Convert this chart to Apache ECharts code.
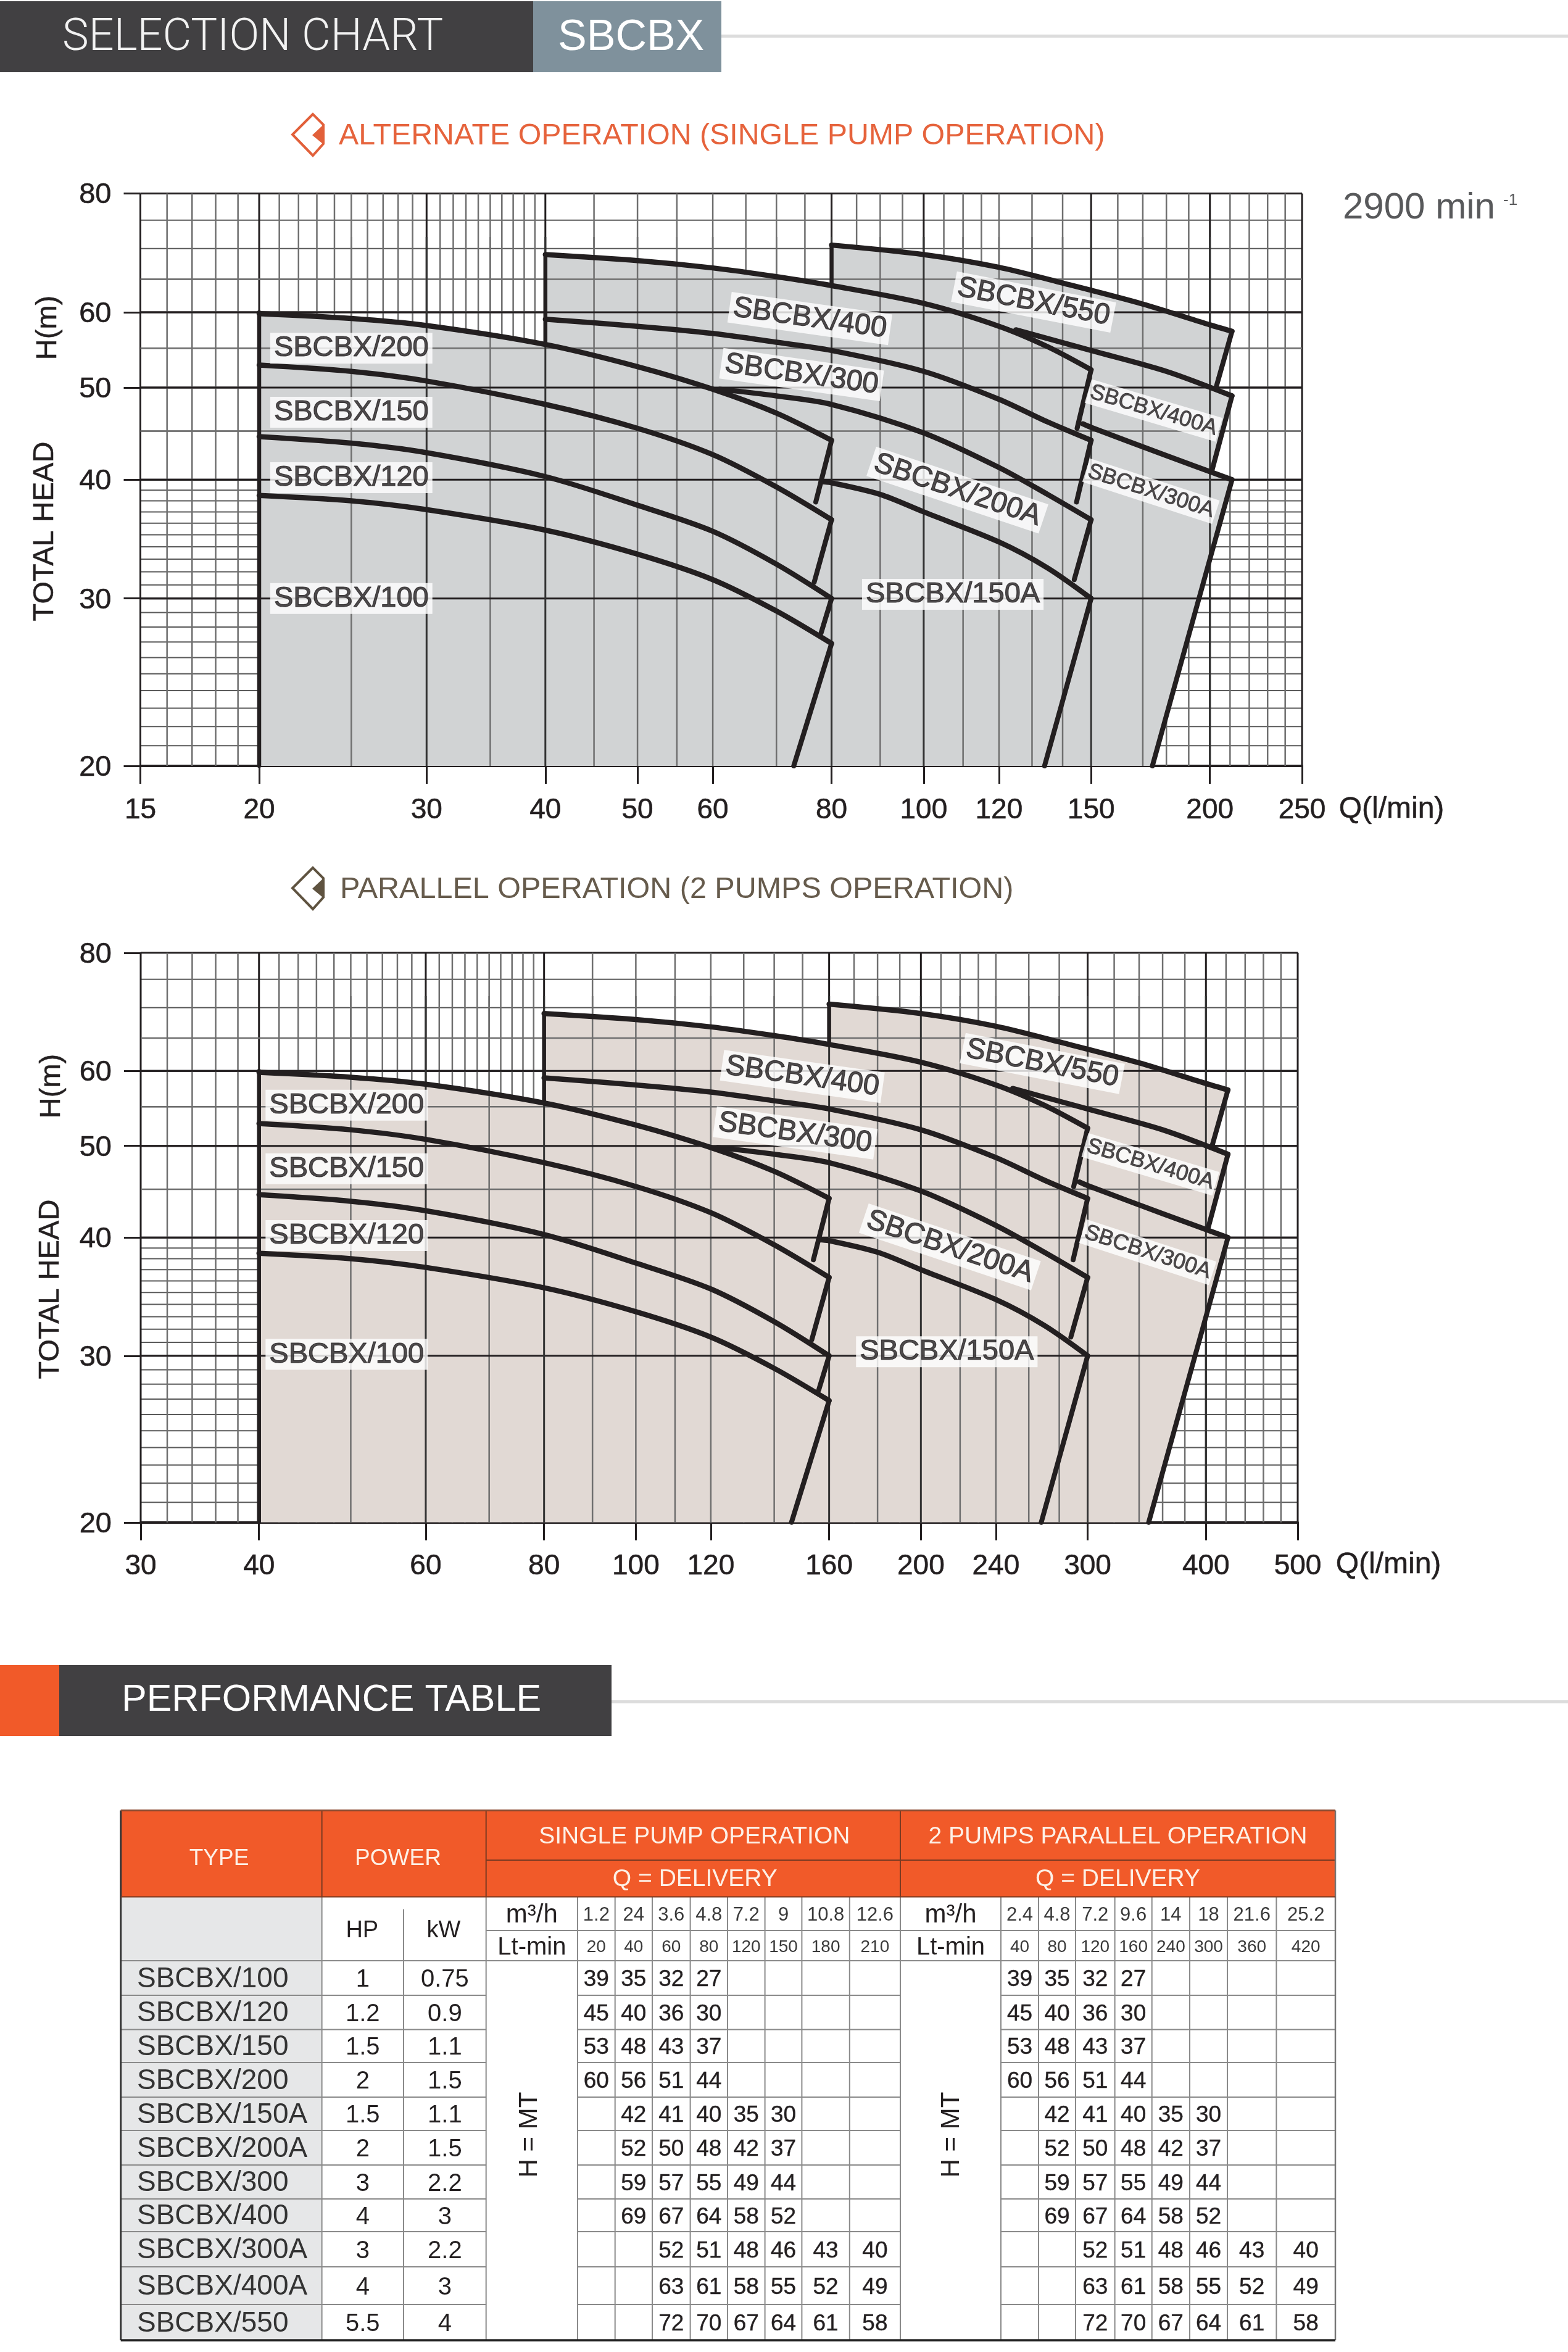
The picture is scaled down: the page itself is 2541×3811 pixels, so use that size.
<!DOCTYPE html>
<html><head><meta charset="utf-8">
<style>html,body{margin:0;padding:0;background:#fff}#c{width:2541px;height:3811px}</style>
<script src="https://cdn.jsdelivr.net/npm/echarts@6/dist/echarts.min.js"></script>
</head><body><div id="c"></div>
<script>
// ---------- axis ticks ----------
const yTicks = [20,30,40,50,60,80];
const xTicks1 = [15,20,30,40,50,60,80,100,120,150,200,250];
const xTicks2 = [30,40,60,80,100,120,160,200,240,300,400,500];
// ---------- grid line values ----------
const yGridMajor = [80,60,50,40,30];
const yGridMinor = [75,70,65,55,45,39,38,37,36,35,34,33,32,31,29,28,27,26,25,24,23,22,21];
const yOverMajor = [60,50,40,30];
const yOverMinor = [65,55,45];
const xGridMajor1 = [15,20,30,40,80,100,150,200,250];
const xGridMinor1 = [16,17,18,19,21,22,23,24,25,26,27,28,29,31,32,33,34,35,36,37,38,39,45,50,55,60,65,70,75,85,90,95,105,110,115,120,130,140,160,170,180,190,210,220,230,240];
const xOverMajor1 = [30,40,80,100,150,200];
const xOverMinor1 = [25,35,45,50,55,60,70,90,110,120,130,140,170];
const xGridMajor2 = [30,40,60,80,160,200,300,400,500];
const xGridMinor2 = [32,34,36,38,42,44,46,48,50,52,54,56,58,62,64,66,68,70,72,74,76,78,90,100,110,120,130,140,150,170,180,190,210,220,230,240,260,280,320,340,360,380,420,440,460,480];
const xOverMajor2 = [60,80,160,200,300,400];
const xOverMinor2 = [50,70,90,100,110,120,140,180,220,240,260,280,340];
// ---------- single pump curves [Q l/min, H m] ----------
const c100a  = [[20,38.5],[25,38],[30,37.2],[40,35.4],[50,33.4],[60,31.4],[70,29.1],[80,26.9]];
const c120a  = [[20,44.4],[25,43.7],[30,42.7],[40,40.3],[50,37.6],[60,35.3],[70,32.6],[80,30]];
const c150a  = [[20,52.8],[25,52],[30,50.8],[40,48],[50,45.3],[60,42.5],[70,39.3],[80,36.3]];
const c200a  = [[20,59.8],[25,59.1],[30,58.1],[40,55.5],[50,52.6],[60,49.8],[70,47],[80,44]];
const c150Aa = [[78,39.8],[80,39.7],[90,38.6],[100,37],[120,34.4],[135,32.3],[150,30]];
const c200Aa = [[61,49.8],[70,49],[80,48],[100,44.8],[120,41.2],[135,38.6],[150,36.3]];
const c300a  = [[40,59],[50,58],[60,57],[70,55.8],[80,54.7],[100,52],[120,48.6],[135,46],[150,44]];
const c400a  = [[40,69],[50,68],[60,66.8],[70,65.4],[80,64],[100,61.3],[120,58],[135,55.2],[150,52.2]];
const c300Aa = [[147,45.8],[150,45.4],[180,42.4],[211,40]];
const c400Aa = [[125,57.5],[150,54.7],[180,52],[211,49]];
const c550a  = [[80,70.6],[100,69],[120,66.9],[140,64.4],[170,61.2],[200,58.2],[211,57.3]];
const cutsA  = [[[80,44],[77,37.9]],[[80,36.3],[76.7,31.2]],[[80,30],[78,27.6]],[[80,26.9],[73,20]],
                [[150,52.2],[145,45.3]],[[150,44],[144.8,37.9]],[[150,36.3],[144,31.4]],[[150,30],[134,20]],
                [[211,57.3],[203,50]],[[211,49],[201,40.9]],[[211,40],[174,20]]];
const wallsA = [[[20,20],[20,60]],[[40,55.5],[40,69]],[[80,64],[80,70.6]]];
const envA   = [[20,20],[20,60],[25,59.1],[30,58.1],[40,55.5],[40,69],[50,68],[60,66.8],[70,65.4],[80,64],[80,70.6],[100,69],[120,66.9],[140,64.4],[170,61.2],[200,58.2],[211,57.3],[203,50],[211,49],[201,40.9],[211,40],[174,20]];
const labelsA = [[25,55],[25,47.1],[25,40.2],[25,30],[107.3,30.3],[108.5,39],[74.4,51.6],[75.9,59.1],[173.4,38.9],[174.5,47.3],[130.5,61.5]];
// ---------- parallel curves ----------
const c100b  = [[40,38.5],[50,38],[60,37.2],[80,35.4],[100,33.4],[120,31.4],[140,29.1],[160,26.9]];
const c120b  = [[40,44.4],[50,43.7],[60,42.7],[80,40.3],[100,37.6],[120,35.3],[140,32.6],[160,30]];
const c150b  = [[40,52.8],[50,52],[60,50.8],[80,48],[100,45.3],[120,42.5],[140,39.3],[160,36.3]];
const c200b  = [[40,59.8],[50,59.1],[60,58.1],[80,55.5],[100,52.6],[120,49.8],[140,47],[160,44]];
const c150Ab = [[156,39.8],[160,39.7],[180,38.6],[200,37],[240,34.4],[270,32.3],[300,30]];
const c200Ab = [[122,49.8],[140,49],[160,48],[200,44.8],[240,41.2],[270,38.6],[300,36.3]];
const c300b  = [[80,59],[100,58],[120,57],[140,55.8],[160,54.7],[200,52],[240,48.6],[270,46],[300,44]];
const c400b  = [[80,69],[100,68],[120,66.8],[140,65.4],[160,64],[200,61.3],[240,58],[270,55.2],[300,52.2]];
const c300Ab = [[294,45.8],[300,45.4],[360,42.4],[422,40]];
const c400Ab = [[250,57.5],[300,54.7],[360,52],[422,49]];
const c550b  = [[160,70.6],[200,69],[240,66.9],[280,64.4],[340,61.2],[400,58.2],[422,57.3]];
const cutsB  = [[[160,44],[154,37.9]],[[160,36.3],[153.4,31.2]],[[160,30],[156,27.6]],[[160,26.9],[146,20]],
                [[300,52.2],[290,45.3]],[[300,44],[289.6,37.9]],[[300,36.3],[288,31.4]],[[300,30],[268,20]],
                [[422,57.3],[406,50]],[[422,49],[402,40.9]],[[422,40],[348,20]]];
const wallsB = [[[40,20],[40,60]],[[80,55.5],[80,69]],[[160,64],[160,70.6]]];
const envB   = [[40,20],[40,60],[50,59.1],[60,58.1],[80,55.5],[80,69],[100,68],[120,66.8],[140,65.4],[160,64],[160,70.6],[200,69],[240,66.9],[280,64.4],[340,61.2],[400,58.2],[422,57.3],[406,50],[422,49],[402,40.9],[422,40],[348,20]];
const labelsB = [[49.5,55.2],[49.5,47.3],[49.5,40.2],[49.5,30.1],[213,30.3],[214.6,39.1],[147.3,51.6],[149.9,59.2],[347.2,38.6],[349.4,47.8],[268.7,61.1]];
// ---------- shared label text ----------
const models = ['SBCBX/200','SBCBX/150','SBCBX/120','SBCBX/100','SBCBX/150A','SBCBX/200A','SBCBX/300','SBCBX/400','SBCBX/300A','SBCBX/400A','SBCBX/550'];
const labelRotate = [0,0,0,0,0,-18.5,-8,-8,-18,-16.5,-11];
// ---------- table ----------
const tableTypes = ['SBCBX/100','SBCBX/120','SBCBX/150','SBCBX/200','SBCBX/150A','SBCBX/200A','SBCBX/300','SBCBX/400','SBCBX/300A','SBCBX/400A','SBCBX/550'];
const tableHP = ['1','1.2','1.5','2','1.5','2','3','4','3','4','5.5'];
const tableKW = ['0.75','0.9','1.1','1.5','1.1','1.5','2.2','3','2.2','3','4'];
const singleM3 = ['1.2','24','3.6','4.8','7.2','9','10.8','12.6'];
const singleLt = ['20','40','60','80','120','150','180','210'];
const parallelM3 = ['2.4','4.8','7.2','9.6','14','18','21.6','25.2'];
const parallelLt = ['40','80','120','160','240','300','360','420'];
const tableHeads = [
 ['39','35','32','27','','','',''],
 ['45','40','36','30','','','',''],
 ['53','48','43','37','','','',''],
 ['60','56','51','44','','','',''],
 ['','42','41','40','35','30','',''],
 ['','52','50','48','42','37','',''],
 ['','59','57','55','49','44','',''],
 ['','69','67','64','58','52','',''],
 ['','','52','51','48','46','43','40'],
 ['','','63','61','58','55','52','49'],
 ['','','72','70','67','64','61','58']];

const FONT = '"Liberation Sans", Arial, sans-serif';
const INK = '#231f20';

function lineSeries(x, y, data, width, z, name, smooth) {
  return {type:'line', name:name, xAxisIndex:x, yAxisIndex:y, data:data, showSymbol:false, symbol:'none', silent:true, z:z,
    smooth:smooth?0.3:false, animation:false, lineStyle:{color:INK, width:width, cap:'round', join:'round'}};
}
function gridSeries(idx, values, vertical, color, width, z, yMinMax, xMinMax) {
  const data = values.map(v => vertical ? [v, yMinMax[0]] : [xMinMax[0], v]);
  return {type:'custom', xAxisIndex:idx, yAxisIndex:idx, data:data, silent:true, z:z, animation:false, clip:false,
    renderItem:function(p, api){
      const v = api.value(vertical?0:1);
      const a = vertical ? api.coord([v,yMinMax[0]]) : api.coord([xMinMax[0],v]);
      const b = vertical ? api.coord([v,yMinMax[1]]) : api.coord([xMinMax[1],v]);
      return {type:'line', shape:{x1:a[0],y1:a[1],x2:b[0],y2:b[1]}, style:{stroke:color,lineWidth:width}};
    }};
}
function fillSeries(idx, env, color) {
  return {type:'custom', xAxisIndex:idx, yAxisIndex:idx, data:env, silent:true, z:2, animation:false, clip:true,
    renderItem:function(p, api){
      if (p.dataIndex !== 0) return null;
      return {type:'polygon', shape:{points:env.map(e=>api.coord(e))}, style:{fill:color}};
    }};
}
function labelSeries(idx, pos) {
  return {type:'scatter', xAxisIndex:idx, yAxisIndex:idx, symbolSize:1, silent:true, z:6, animation:false,
    itemStyle:{color:'transparent'},
    data:pos.map((p,i)=>{
      const small = /\/[34]00A$/.test(models[i]);
      return {value:p, name:models[i], label:{show:true, position:'inside', formatter:models[i], rotate:labelRotate[i],
        fontFamily:FONT, fontSize:small?35.5:47, color:INK, textBorderColor:INK, textBorderWidth:small?0.8:1.2,
        backgroundColor:'#fff', padding:small?[2,4]:[3,6], lineHeight:small?36:44, align:'center', verticalAlign:'middle'}};
    })};
}
function chartSeries(idx, d) {
  const x=[d.xr[0],d.xr[1]], y=[20,80];
  const s=[];
  s.push(gridSeries(idx,yGridMinor,false,'#5a5a5a',2,1,y,x));
  s.push(gridSeries(idx,yGridMajor,false,INK,3,1,y,x));
  s.push(gridSeries(idx,d.xMinor,true,'#6f6f6f',2.5,1,y,x));
  s.push(gridSeries(idx,d.xMajor,true,INK,3,1,y,x));
  s.push(fillSeries(idx,d.env,d.fill));
  s.push(gridSeries(idx,yOverMinor,false,'#6f6f6f',2.5,3,y,[d.xr[0],d.xr[1]]));
  s.push(gridSeries(idx,d.xOverMinor,true,'#6f6f6f',2.5,3,[20,d.top],x));
  s.push(gridSeries(idx,yOverMajor,false,INK,3,3,y,x));
  s.push(gridSeries(idx,d.xOverMajor,true,'#333',3,3,[20,d.top],x));
  d.curves.forEach(c=>s.push(lineSeries(idx,idx,c,8.5,5,'curve',true)));
  d.cuts.forEach(c=>s.push(lineSeries(idx,idx,c,8,5,'cut',false)));
  d.walls.forEach(c=>s.push(lineSeries(idx,idx,c,6.5,5,'wall',false)));
  s.push(labelSeries(idx,d.labels));
  return s;
}
function xAxisOf(idx, min, max, ticks) {
  return {type:'log', logBase:10, gridIndex:idx, min:min, max:max, splitLine:{show:false}, minorTick:{show:false}, minorSplitLine:{show:false},
    axisLine:{show:true, onZero:false, lineStyle:{color:INK,width:4}},
    axisTick:{show:true, customValues:ticks, length:29, lineStyle:{color:INK,width:3}},
    axisLabel:{show:true, customValues:ticks, margin:49, hideOverlap:false, showMinLabel:true, showMaxLabel:true, fontFamily:FONT, fontSize:46, color:INK, textBorderColor:INK, textBorderWidth:0.6}};
}
function yAxisOf(idx) {
  return {type:'log', logBase:10, gridIndex:idx, min:20, max:80, splitLine:{show:false}, minorTick:{show:false}, minorSplitLine:{show:false},
    axisLine:{show:false},
    axisTick:{show:true, customValues:yTicks, length:27, lineStyle:{color:INK,width:3}},
    axisLabel:{show:true, customValues:yTicks, margin:47, verticalAlign:'top', lineHeight:6, hideOverlap:false, showMinLabel:true, showMaxLabel:true, fontFamily:FONT, fontSize:47, color:INK, textBorderColor:INK, textBorderWidth:0.6}};
}
const g=[];
function rect(x,y,w,h,fill,z){g.push({type:'rect',shape:{x:x,y:y,width:w,height:h},style:{fill:fill},z:z||1,silent:true});}
function text(x,y,t,size,color,align,opt){opt=opt||{};
  if(opt.rot) x+=3; else y+=3;
  const st={text:t,fill:color,font:(opt.weight?opt.weight+' ':'')+size+'px '+(opt.family||FONT),textAlign:align||'center',textVerticalAlign:'middle'};
  if(opt.heavy){st.stroke=color;st.lineWidth=opt.heavy;}
  g.push({type:'text',x:x,y:y,rotation:opt.rot||0,z:opt.z||5,silent:true,style:st});}
function hline(x1,x2,y,c,w){g.push({type:'line',shape:{x1:x1,y1:y,x2:x2,y2:y},style:{stroke:c,lineWidth:w},z:3,silent:true});}
function vline(x,y1,y2,c,w){g.push({type:'line',shape:{x1:x,y1:y1,x2:x,y2:y2},style:{stroke:c,lineWidth:w},z:3,silent:true});}
function icon(dy,c){
  g.push({type:'polygon',shape:{points:[[507,185+dy],[474,218+dy],[507,252+dy],[524,233+dy],[524,202+dy]]},style:{fill:'#fff',stroke:c,lineWidth:4,lineJoin:'miter'},z:3,silent:true});
  g.push({type:'polygon',shape:{points:[[523,203+dy],[506,219+dy],[523,233+dy]]},style:{fill:c},z:4,silent:true});
}
// page banners
rect(0,2,864,115,'#414042');
rect(864,2,305,115,'#7f919c');
rect(1169,56,1372,5,'#dcdcdc');
text(101,60,'SELECTION CHART',72,'#f2f2f2','left',{family:'Roboto, '+FONT,weight:300});
text(904,59,'SBCBX',70,'#ffffff','left');
icon(0,'#e2603a');
text(549,218,'ALTERNATE OPERATION (SINGLE PUMP OPERATION)',48.3,'#e6633c','left');
icon(1221,'#5f5340');
text(551,1439,'PARALLEL OPERATION (2 PUMPS OPERATION)',48.5,'#665b4c','left');
text(2176,334,'2900 min',60,'#58595b','left');
text(2436,322,'-1',26,'#58595b','left');
// axis titles
const ROT=Math.PI/2;
text(70,861,'TOTAL HEAD',47,INK,'center',{rot:ROT,heavy:0.5});
text(75,531,'H(m)',47,INK,'center',{rot:ROT,heavy:0.5});
text(2255,1309,'Q(l/min)',48,INK,'center',{heavy:0.6});
text(79,2089,'TOTAL HEAD',47,INK,'center',{rot:ROT,heavy:0.5});
text(81,1760,'H(m)',47,INK,'center',{rot:ROT,heavy:0.5});
text(2250,2533,'Q(l/min)',48,INK,'center',{heavy:0.6});
// performance banner
rect(0,2698,96,115,'#f15a29');
rect(96,2698,895,115,'#414042');
rect(991,2755,1550,5,'#dcdcdc');
text(197,2752,'PERFORMANCE TABLE',61,'#ffffff','left');
// table
const colX=[195.7,521.6,654,787.7,936,996.7,1057,1118.6,1179,1239.6,1299.4,1376.8,1459,1622,1683,1743,1806.6,1866.7,1928,1989,2068.4,2164];
const rowY=[2933.4,3014,3073.6,3128,3177,3233,3288.5,3342,3398,3452,3508,3563,3616,3673,3734,3792];
rect(colX[0],rowY[0],colX[21]-colX[0],rowY[2]-rowY[0],'#f15a29');
rect(colX[0],rowY[2],colX[1]-colX[0],rowY[15]-rowY[2],'#e6e7e8');
text(355,rowY[0]+75,'TYPE',37,'#fdf0e6');
text(645,rowY[0]+75,'POWER',37,'#fdf0e6');
text((colX[3]+colX[12])/2+2,(rowY[0]+rowY[1])/2,'SINGLE PUMP OPERATION',39,'#fdf0e6');
text((colX[12]+colX[21])/2,(rowY[0]+rowY[1])/2,'2 PUMPS PARALLEL OPERATION',39,'#fdf0e6');
text((colX[3]+colX[12])/2+3,(rowY[1]+rowY[2])/2-2,'Q = DELIVERY',39,'#fdf0e6');
text((colX[12]+colX[21])/2,(rowY[1]+rowY[2])/2-2,'Q = DELIVERY',39,'#fdf0e6');
const lineC='#8a8a8a', hdr='#7a3a22';
hline(colX[3],colX[21],rowY[1],hdr,2);
[colX[1],colX[3],colX[12]].forEach(x=>vline(x,rowY[0],rowY[2],hdr,2));
// sub-header
hline(colX[3],colX[21],rowY[3],lineC,2);
hline(colX[0],colX[21],rowY[4],lineC,2);
text((colX[1]+colX[2])/2-1,(rowY[2]+rowY[4])/2,'HP',38,INK);
text((colX[2]+colX[3])/2-2,(rowY[2]+rowY[4])/2,'kW',38,INK);
text((colX[3]+colX[4])/2,(rowY[2]+rowY[3])/2,'m³/h',42,INK);
text((colX[3]+colX[4])/2,(rowY[3]+rowY[4])/2,'Lt-min',40,INK);
text((colX[12]+colX[13])/2,(rowY[2]+rowY[3])/2,'m³/h',42,INK);
text((colX[12]+colX[13])/2,(rowY[3]+rowY[4])/2,'Lt-min',40,INK);
singleM3.forEach((t,i)=>{
  const cx=(colX[4+i]+colX[5+i])/2, px=(colX[13+i]+colX[14+i])/2;
  text(cx,(rowY[2]+rowY[3])/2,t,31,'#3a3a3a');
  text(cx,(rowY[3]+rowY[4])/2,singleLt[i],28,'#3a3a3a');
  text(px,(rowY[2]+rowY[3])/2,parallelM3[i],31,'#3a3a3a');
  text(px,(rowY[3]+rowY[4])/2,parallelLt[i],28,'#3a3a3a');
});
tableTypes.forEach((t,r)=>{
  const cy=(rowY[4+r]+rowY[5+r])/2;
  text(222,cy-1,t,46,'#333','left');
  text((colX[1]+colX[2])/2,cy,tableHP[r],40,INK);
  text((colX[2]+colX[3])/2,cy,tableKW[r],40,INK);
  tableHeads[r].forEach((v,i)=>{
    if(!v) return;
    text((colX[4+i]+colX[5+i])/2,cy,v,37,INK,'center',{heavy:0.4});
    text((colX[13+i]+colX[14+i])/2,cy,v,37,INK,'center',{heavy:0.4});
  });
  if(r<10){
    const y=rowY[5+r];
    hline(colX[0],colX[3],y,lineC,2);
    hline(colX[4],colX[12],y,lineC,2);
    hline(colX[13],colX[21],y,lineC,2);
  }
});
[colX[2]].forEach(x=>vline(x,rowY[2]+20,rowY[15],lineC,2));
[colX[1],colX[3],colX[4],colX[5],colX[6],colX[7],colX[8],colX[9],colX[10],colX[11],colX[12],colX[13],colX[14],colX[15],colX[16],colX[17],colX[18],colX[19],colX[20]].forEach(x=>vline(x,rowY[2],rowY[15],lineC,2));
vline(colX[21],rowY[0],rowY[15],'#777',2.5);
vline(colX[0],rowY[0],rowY[15],'#333',3);
hline(colX[0],colX[21],rowY[0],'#8a4a30',3);
hline(colX[0],colX[21],rowY[2],hdr,2);
hline(colX[0],colX[21],rowY[15],'#222',3.5);
text(855,3459,'H = MT',42,INK,'center',{rot:ROT});
text(1539,3459,'H = MT',42,INK,'center',{rot:ROT});

const option={
  animation:false, backgroundColor:'#fff',
  grid:[
    {left:227.5, top:313.5, width:1882.5, height:927.5, containLabel:false, show:false},
    {left:228, top:1543.8, width:1875, height:923, containLabel:false, show:false}
  ],
  xAxis:[xAxisOf(0,15,250,xTicks1), xAxisOf(1,30,500,xTicks2)],
  yAxis:[yAxisOf(0), yAxisOf(1)],
  series:[].concat(
    chartSeries(0,{xr:[15,250],xMajor:xGridMajor1,xMinor:xGridMinor1,xOverMajor:xOverMajor1,xOverMinor:xOverMinor1,env:envA,fill:'#d1d3d4',top:72,
      curves:[c100a,c120a,c150a,c200a,c150Aa,c200Aa,c300a,c400a,c300Aa,c400Aa,c550a],cuts:cutsA,walls:wallsA,labels:labelsA}),
    chartSeries(1,{xr:[30,500],xMajor:xGridMajor2,xMinor:xGridMinor2,xOverMajor:xOverMajor2,xOverMinor:xOverMinor2,env:envB,fill:'#e1d9d4',top:72,
      curves:[c100b,c120b,c150b,c200b,c150Ab,c200Ab,c300b,c400b,c300Ab,c400Ab,c550b],cuts:cutsB,walls:wallsB,labels:labelsB})
  ),
  graphic:{elements:g}
};
const chart=echarts.init(document.getElementById('c'));
chart.setOption(option);
</script></body></html>
